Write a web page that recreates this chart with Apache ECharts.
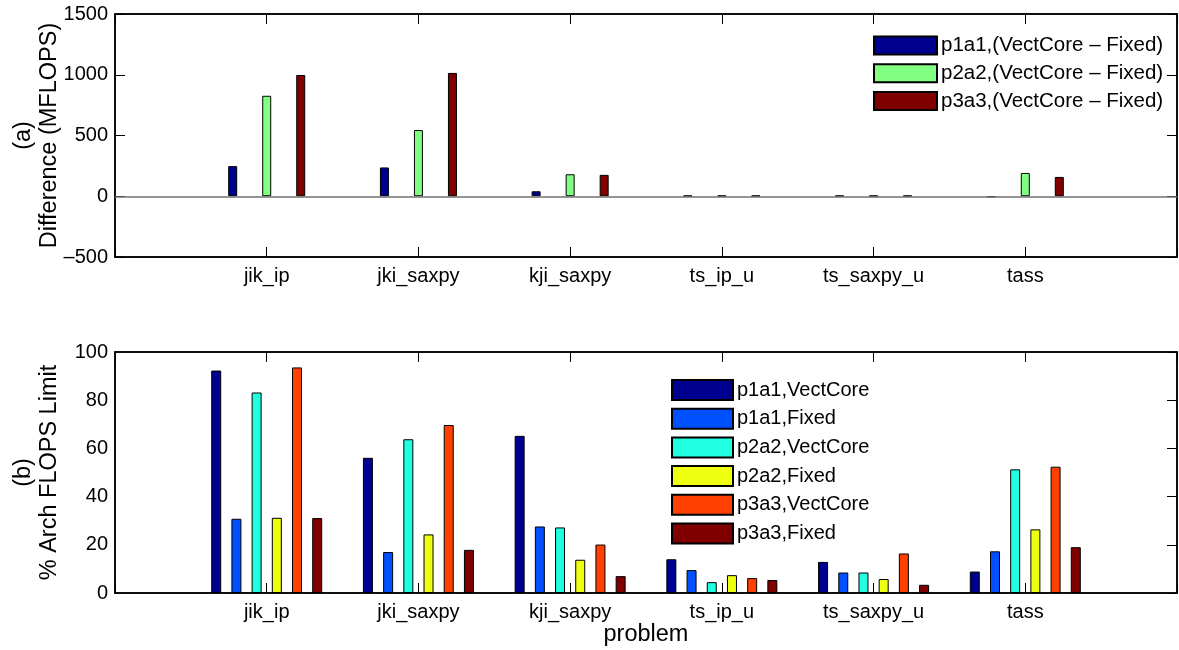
<!DOCTYPE html>
<html><head><meta charset="utf-8">
<script src="https://cdn.jsdelivr.net/npm/echarts@6/dist/echarts.min.js"></script>
<style>html,body{margin:0;padding:0;background:#fff}#c{width:1179px;height:650px}</style>
</head><body><div id="c"></div>
<script>
const categories = ['jik_ip','jki_saxpy','kji_saxpy','ts_ip_u','ts_saxpy_u','tass'];
// Panel (a): difference VectCore - Fixed (MFLOPS)
const diffNames = ['p1a1,(VectCore \u2013 Fixed)','p2a2,(VectCore \u2013 Fixed)','p3a3,(VectCore \u2013 Fixed)'];
const diffP1a1 = [248, 237, 41, 5, 5, -8];
const diffP2a2 = [827, 545, 181, 5, 5, 192];
const diffP3a3 = [998, 1015, 176, 5, 5, 159];
const diffColors = ['#000090','#80ff80','#800000'];
// Panel (b): % of arch FLOPS limit
const pctNames = ['p1a1,VectCore','p1a1,Fixed','p2a2,VectCore','p2a2,Fixed','p3a3,VectCore','p3a3,Fixed'];
const pctP1a1Vect = [92.3, 56.1, 65.2, 14.0, 12.9, 8.9];
const pctP1a1Fixed = [30.8, 17.0, 27.6, 9.5, 8.5, 17.3];
const pctP2a2Vect = [83.2, 63.8, 27.2, 4.5, 8.5, 51.3];
const pctP2a2Fixed = [31.2, 24.3, 13.8, 7.4, 5.8, 26.4];
const pctP3a3Vect = [93.6, 69.7, 20.1, 6.2, 16.4, 52.4];
const pctP3a3Fixed = [31.1, 17.9, 7.0, 5.4, 3.4, 19.0];
const pctColors = ['#000090','#0050ff','#20ffdf','#efff10','#ff4000','#800000'];
const diffTicks = {min:-500, max:1500, interval:500};
const pctTicks = {min:0, max:100, interval:20};

const FONT = 'Liberation Sans, Arial, Helvetica, sans-serif';
const cats = [''].concat(categories, ['']);
const pad = a => [null].concat(a, [null]);
const fmtNeg = v => v < 0 ? '\u2013' + Math.abs(v) : String(v);

function xAxes(grid, name) {
  return [
    {type:'category', gridIndex:grid, data:cats, boundaryGap:false, position:'bottom',
     axisLine:{onZero:false,lineStyle:{color:'#000',width:1.5}},
     axisTick:{inside:true,length:10,interval:0,lineStyle:{color:'#000'}},
     axisLabel:{interval:0,color:'#000',fontSize:20,fontFamily:FONT,margin:9},
     name:name, nameLocation:'middle', nameGap:30, nameMoveOverlap:false,
     nameTextStyle:{color:'#000',fontSize:23.5,fontFamily:FONT},
     splitLine:{show:false}},
    {type:'category', gridIndex:grid, data:cats, boundaryGap:false, position:'top',
     axisLine:{onZero:false,lineStyle:{color:'#000',width:1.5}},
     axisTick:{inside:true,length:10,interval:0,lineStyle:{color:'#000'}},
     axisLabel:{show:false}, splitLine:{show:false}}
  ];
}
function yAxes(grid, t, name, leftTicks, fmt) {
  return [
    {type:'value', gridIndex:grid, min:t.min, max:t.max, interval:t.interval, position:'left',
     axisLine:{show:true,onZero:false,lineStyle:{color:'#000',width:1.5}},
     axisTick:{show:leftTicks,inside:true,length:10,lineStyle:{color:'#000'}},
     axisLabel:{color:'#000',fontSize:20,fontFamily:FONT,margin:7,formatter:fmt},
     splitLine:{show:false},
     name:name, nameLocation:'middle', nameRotate:90, nameGap:53, nameMoveOverlap:false,
     nameTextStyle:{color:'#000',fontSize:23.5,fontFamily:FONT,lineHeight:25.5}},
    {type:'value', gridIndex:grid, min:t.min, max:t.max, interval:t.interval, position:'right',
     axisLine:{show:true,onZero:false,lineStyle:{color:'#000',width:1.5}},
     axisTick:{show:true,inside:true,length:10,lineStyle:{color:'#000'}},
     axisLabel:{show:false}, splitLine:{show:false}}
  ];
}

const diffData = [diffP1a1, diffP2a2, diffP3a3];
const pctData = [pctP1a1Vect, pctP1a1Fixed, pctP2a2Vect, pctP2a2Fixed, pctP3a3Vect, pctP3a3Fixed];

const series = [];
diffData.forEach((d,i) => {
  const s = {type:'bar', name:diffNames[i], xAxisIndex:0, yAxisIndex:0, data:pad(d),
    barWidth:9, barGap:'278%', itemStyle:{color:diffColors[i],borderColor:'#000',borderWidth:1}};
  if (i === 0) s.markLine = {silent:true, symbol:'none', label:{show:false},
    lineStyle:{color:'#707070',type:'solid',width:1.5}, data:[{yAxis:0}]};
  series.push(s);
});
pctData.forEach((d,i) => {
  series.push({type:'bar', name:pctNames[i], xAxisIndex:2, yAxisIndex:2, data:pad(d),
    barWidth:10, barGap:'102%', itemStyle:{color:pctColors[i],borderColor:'#000',borderWidth:1}});
});

const chart = echarts.init(document.getElementById('c'), null, {renderer:'canvas'});
chart.setOption({
  animation:false,
  backgroundColor:'#fff',
  grid:[
    {left:115, top:14, width:1062, height:243, show:true, borderColor:'#000', borderWidth:1.5,
     containLabel:false, outerBoundsMode:'none'},
    {left:115, top:352, width:1062, height:241, show:true, borderColor:'#000', borderWidth:1.5,
     containLabel:false, outerBoundsMode:'none'}
  ],
  xAxis: xAxes(0, '').concat(xAxes(1, 'problem')),
  yAxis: yAxes(0, diffTicks, '(a)\nDifference (MFLOPS)', true, fmtNeg).concat(
         yAxes(1, pctTicks, '(b)\n% Arch FLOPS Limit', false, fmtNeg)),
  legend:[
    {data:diffNames, orient:'vertical', left:873, top:35, padding:0, icon:'rect', itemWidth:63, itemHeight:18,
     itemGap:6.7, textStyle:{color:'#000',fontSize:20.5,fontFamily:FONT,lineHeight:18,padding:[0,0,0,-1]}},
    {data:pctNames, orient:'vertical', left:671, top:379, padding:0, icon:'rect', itemWidth:61, itemHeight:20,
     itemGap:6.7, textStyle:{color:'#000',fontSize:20,fontFamily:FONT,lineHeight:20,padding:[0,0,0,-1]}}
  ],
  series: series
});
</script></body></html>
